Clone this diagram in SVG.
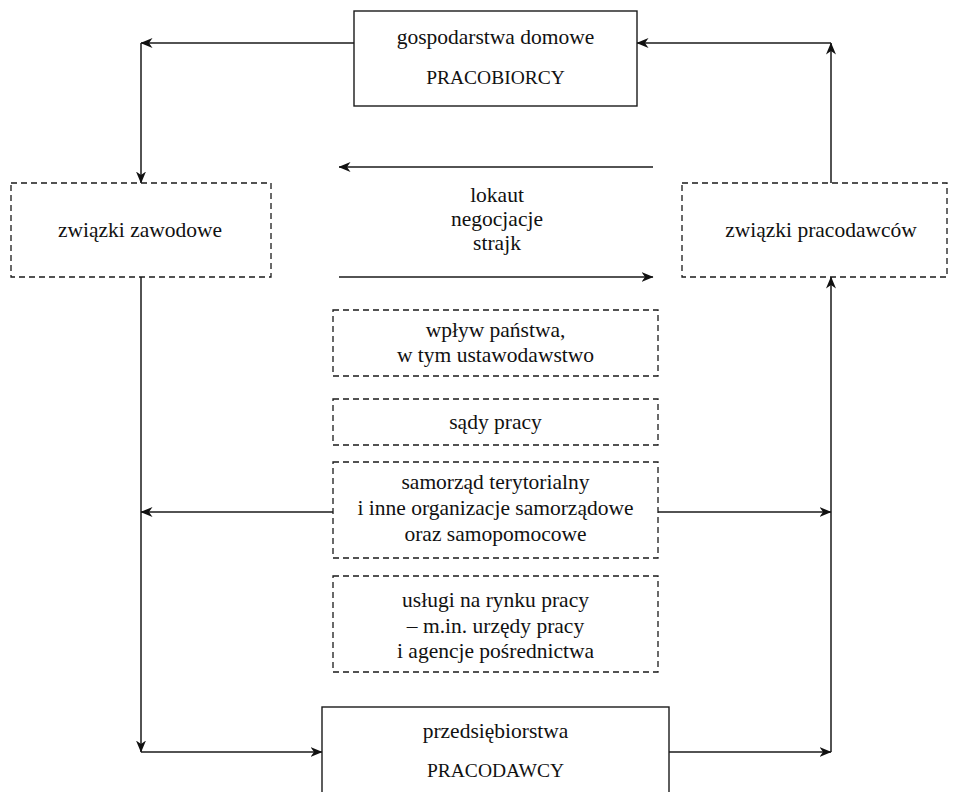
<svg xmlns="http://www.w3.org/2000/svg" width="958" height="792" viewBox="0 0 958 792">
  <style>
    .solid { fill: #fff; stroke: #1a1a1a; stroke-width: 1.4; }
    .dash { fill: #fff; stroke: #1a1a1a; stroke-width: 1.3; stroke-dasharray: 6 4; }
    text { font-family: 'Liberation Serif', 'DejaVu Serif', serif; font-size: 21.5px; fill: #111; text-anchor: middle; }
    .cap { font-size: 19.5px; }
    .conn { fill: none; stroke: #1a1a1a; stroke-width: 1.5; marker-end: url(#head); }
  </style>
  <defs>
    <marker id="head" viewBox="0 0 12 10" refX="11.5" refY="5" markerWidth="12" markerHeight="10" markerUnits="userSpaceOnUse" orient="auto">
      <path d="M0,0 L12,5 L0,10 L3.5,5 z" fill="#111"/>
    </marker>
  </defs>

  <g id="connectors">
    <!-- households -> trade unions -->
    <path class="conn" d="M354,43 H141"/>
    <path class="conn" d="M141,43 V183"/>
    <!-- employers' associations -> households -->
    <path class="conn" d="M831,183 V43"/>
    <path class="conn" d="M831,43 H637"/>
    <!-- trade unions -> enterprises -->
    <path class="conn" d="M141,277 V752"/>
    <path class="conn" d="M141,752 H322"/>
    <!-- enterprises -> employers' associations -->
    <path class="conn" d="M669,752 H831"/>
    <path class="conn" d="M831,752 V277"/>
    <!-- bargaining arrows -->
    <path class="conn" d="M653,167 H339"/>
    <path class="conn" d="M339,277 H653"/>
    <!-- self-government links -->
    <path class="conn" d="M333,512 H141"/>
    <path class="conn" d="M658,512 H831"/>
  </g>

  <g id="households" font-family="Liberation Serif, serif">
    <rect class="solid" x="354" y="11" width="283" height="95"/>
    <text x="495.5" y="44">gospodarstwa domowe</text>
    <text class="cap" x="495.5" y="84">PRACOBIORCY</text>
  </g>

  <g id="trade-unions">
    <rect class="dash" x="11" y="183" width="260" height="94"/>
    <text x="140" y="237">związki zawodowe</text>
  </g>

  <g id="employers-associations">
    <rect class="dash" x="682" y="183" width="265" height="94"/>
    <text x="821" y="237">związki pracodawców</text>
  </g>

  <g id="bargaining">
    <text x="497" y="202">lokaut</text>
    <text x="497" y="226">negocjacje</text>
    <text x="497" y="250">strajk</text>
  </g>

  <g id="state">
    <rect class="dash" x="333" y="310" width="325" height="66"/>
    <text x="495.5" y="337">wpływ państwa,</text>
    <text x="495.5" y="362">w tym ustawodawstwo</text>
  </g>

  <g id="labour-courts">
    <rect class="dash" x="333" y="399" width="325" height="46"/>
    <text x="495.5" y="429">sądy pracy</text>
  </g>

  <g id="self-government">
    <rect class="dash" x="333" y="462" width="325" height="96"/>
    <text x="495.5" y="489">samorząd terytorialny</text>
    <text x="495.5" y="515">i inne organizacje samorządowe</text>
    <text x="495.5" y="541">oraz samopomocowe</text>
  </g>

  <g id="labour-market-services">
    <rect class="dash" x="333" y="576" width="325" height="96"/>
    <text x="495.5" y="607">usługi na rynku pracy</text>
    <text x="495.5" y="633">– m.in. urzędy pracy</text>
    <text x="495.5" y="658">i agencje pośrednictwa</text>
  </g>

  <g id="enterprises">
    <rect class="solid" x="322" y="707" width="347" height="100"/>
    <text x="495.5" y="738">przedsiębiorstwa</text>
    <text class="cap" x="495.5" y="777">PRACODAWCY</text>
  </g>
</svg>
